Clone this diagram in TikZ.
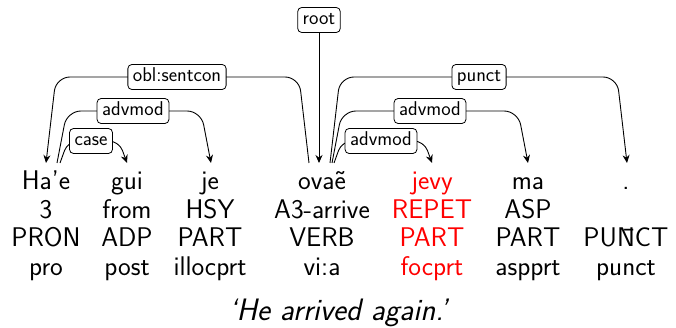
\documentclass[tikz,border=0pt]{standalone}
\usetikzlibrary{arrows.meta,calc,backgrounds}
\begin{document}
\begin{tikzpicture}[x=1pt,y=-1pt]
\useasboundingbox (0,0) rectangle (676,328);
\tikzset{
  word/.style={anchor=base, inner sep=0pt, font=\sffamily\fontsize{27}{29}\selectfont},
  hl/.style={word, text=red},
  lab/.style={draw, rounded corners=4pt, fill=white, inner xsep=5pt, inner ysep=3.5pt,
    text height=14pt, text depth=4pt,
    line width=0.8pt, font=\sffamily\fontsize{20}{22}\selectfont},
  edge/.style={line width=0.9pt, rounded corners=14pt, -{Stealth[length=8pt,width=7pt]}}
}
% word columns: form, gloss, UPOS, XPOS
\foreach \x/\a/\b/\c/\d/\s in {46/Ha’e/3/PRON/pro/word, 127/gui/from/ADP/post/word,
   210/je/HSY/PART/illocprt/word, 322/ovaẽ/A3-arrive/VERB/vi:a/word,
   432/jevy/REPET/PART/focprt/hl, 528/ma/ASP/PART/aspprt/word} {
  \node[\s] at (\x,190) {\a};
  \node[\s] at (\x,219) {\b};
  \node[\s] at (\x,247) {\c};
  \node[\s] at (\x,276) {\d};
}
\node[word] (w7) at (626,190) {.};
\node[word] at (626,247) {PU\={N}CT};
\node[word] at (626,276) {punct};
\node[anchor=base, font=\sffamily\itshape\fontsize{31}{33}\selectfont] (tr) at (338,320) {‘He arrived again.’};

% edge end points on top of the words
\coordinate (t-hae) at (46,163);
\coordinate (s-hae1) at (57,163);
\coordinate (s-hae2) at (60,163);
\coordinate (t-gui) at (127,163);
\coordinate (t-je) at (211,163);
\coordinate (s-ova) at (309,163);
\coordinate (t-ova) at (319,163);
\coordinate (s-ova1) at (330,163);
\coordinate (s-ova2) at (332,163);
\coordinate (s-ova3) at (334,163);
\coordinate (t-jevy) at (432,163);
\coordinate (t-ma) at (528,163);
\coordinate (t-dot) at (627,163);

% labels
\node[lab] (l-root) at (319,20) {root};
\node[lab] (l-obl) at (177,77) {obl:sentcon};
\node[lab] (l-adv1) at (133,111) {advmod};
\node[lab] (l-case) at (91,141) {case};
\node[lab] (l-punct) at (479,77) {punct};
\node[lab] (l-adv2) at (430,111) {advmod};
\node[lab] (l-adv3) at (381,141) {advmod};

% arcs, drawn behind the labels
\begin{pgfonlayer}{background}
\draw[edge, rounded corners=0pt] (l-root) -- (t-ova);
\draw[edge] (s-ova) -- ([xshift=-10pt]s-ova |- l-obl) -- ([xshift=10pt]t-hae |- l-obl) -- (t-hae);
\draw[edge] (s-hae1) -- ([xshift=10pt]s-hae1 |- l-adv1) -- ([xshift=-10pt]t-je |- l-adv1) -- (t-je);
\draw[edge, rounded corners=10pt] (s-hae2) -- ([xshift=8pt]s-hae2 |- l-case) -- ([xshift=-8pt]t-gui |- l-case) -- (t-gui);
\draw[edge] (s-ova1) -- ([xshift=10pt]s-ova1 |- l-punct) -- ([xshift=-10pt]t-dot |- l-punct) -- (t-dot);
\draw[edge] (s-ova2) -- ([xshift=10pt]s-ova2 |- l-adv2) -- ([xshift=-10pt]t-ma |- l-adv2) -- (t-ma);
\draw[edge, rounded corners=10pt] (s-ova3) -- ([xshift=8pt]s-ova3 |- l-adv3) -- ([xshift=-8pt]t-jevy |- l-adv3) -- (t-jevy);
\end{pgfonlayer}
\end{tikzpicture}
\end{document}
